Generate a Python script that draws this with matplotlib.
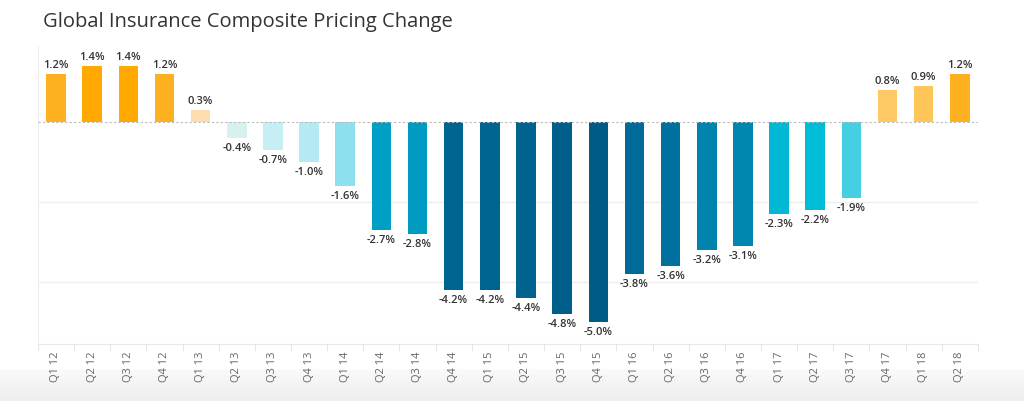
import numpy as np
import matplotlib
matplotlib.use("Agg")
from matplotlib import pyplot as plt
from matplotlib.colors import LinearSegmentedColormap
from matplotlib.ticker import FixedLocator

plt.rcParams['font.family'] = ['Open Sans', 'DejaVu Sans']

# 季度标签
quarters = ['Q1 12', 'Q2 12', 'Q3 12', 'Q4 12', 'Q1 13', 'Q2 13', 'Q3 13', 'Q4 13',
            'Q1 14', 'Q2 14', 'Q3 14', 'Q4 14', 'Q1 15', 'Q2 15', 'Q3 15', 'Q4 15',
            'Q1 16', 'Q2 16', 'Q3 16', 'Q4 16', 'Q1 17', 'Q2 17', 'Q3 17', 'Q4 17',
            'Q1 18', 'Q2 18']
# 价格变化 (%)
pricing_change = [1.2, 1.4, 1.4, 1.2, 0.3, -0.4, -0.7, -1.0,
                  -1.6, -2.7, -2.8, -4.2, -4.2, -4.4, -4.8, -5.0,
                  -3.8, -3.6, -3.2, -3.1, -2.3, -2.2, -1.9, 0.8,
                  0.9, 1.2]

# 负值：浅青 -> 深蓝
neg_cmap = LinearSegmentedColormap.from_list('neg', [
    (0.00, '#e2f4ee'),
    (0.08, '#d7f1ee'),
    (0.14, '#c5eef5'),
    (0.20, '#b5eaf4'),
    (0.32, '#8ee0ee'),
    (0.38, '#45cfe2'),
    (0.44, '#00bcd6'),
    (0.46, '#00b8d4'),
    (0.54, '#009fc3'),
    (0.56, '#009bc0'),
    (0.62, '#0087b0'),
    (0.64, '#0084ad'),
    (0.72, '#00709e'),
    (0.76, '#006b99'),
    (0.84, '#006490'),
    (0.88, '#00628e'),
    (0.96, '#005e8a'),
    (1.00, '#005c86'),
])
# 正值：浅橙 -> 橙
pos_cmap = LinearSegmentedColormap.from_list('pos', [
    (0.00, '#fde8cc'),
    (0.21, '#fddcb0'),
    (0.57, '#fec865'),
    (0.64, '#fec55a'),
    (0.86, '#fdb120'),
    (1.00, '#fea800'),
])
neg_max, pos_max = 5.0, 1.4
colors = [pos_cmap(v / pos_max) if v >= 0 else neg_cmap(-v / neg_max) for v in pricing_change]

fig = plt.figure(figsize=(10.24, 4.02), dpi=100)

# 底部灰色渐变
bg = fig.add_axes([0, 0, 1, 0.08], zorder=-5)
grad = np.linspace(0, 1, 60).reshape(-1, 1) ** 0.5
bg.imshow(grad, aspect='auto', cmap=LinearSegmentedColormap.from_list('g', ['#ffffff', '#efefef']),
          extent=[0, 1, 0, 1], vmin=0, vmax=1)
bg.axis('off')

ax = fig.add_axes([0.037, 0.142, 0.918, 0.741])
ax.set_facecolor('none')
x = np.arange(len(quarters))
ax.bar(x, pricing_change, width=0.54, color=colors, zorder=3)

for xi, v in zip(x, pricing_change):
    if v >= 0:
        ax.annotate('%.1f%%' % v, (xi, v), xytext=(0, 3), textcoords='offset points',
                    ha='center', va='bottom', fontsize=8, color='#333333', fontweight='semibold')
    else:
        ax.annotate('%.1f%%' % v, (xi, v), xytext=(0, -3), textcoords='offset points',
                    ha='center', va='top', fontsize=8, color='#333333', fontweight='semibold')

ax.set_xlim(-0.5, len(quarters) - 0.5)
ax.set_ylim(-5.55, 1.9)

ax.axhline(0, color='#bbbbbb', linestyle=(0, (2, 2)), linewidth=0.8, zorder=4)
for g in [-2, -4]:
    ax.axhline(g, color='#eeeeee', linewidth=1.0, zorder=1)

ax.set_yticks([])
ax.set_xticks(x)
ax.set_xticklabels(quarters, rotation=90, fontsize=8, color='#666666')
ax.tick_params(axis='x', which='major', length=0, pad=5)
ax.xaxis.set_minor_locator(FixedLocator(np.arange(-0.5, len(quarters), 1.0)))
ax.tick_params(axis='x', which='minor', length=5, color='#e6e6e6', width=0.8)

for s in ['top', 'right']:
    ax.spines[s].set_visible(False)
ax.spines['left'].set_color('#eeeeee')
ax.spines['bottom'].set_color('#e8e8e8')

fig.text(0.042, 0.946, 'Global Insurance Composite Pricing Change', fontsize=14.5,
         color='#333333', ha='left', va='center')

fig.savefig('out.png', dpi=100, facecolor='white')
